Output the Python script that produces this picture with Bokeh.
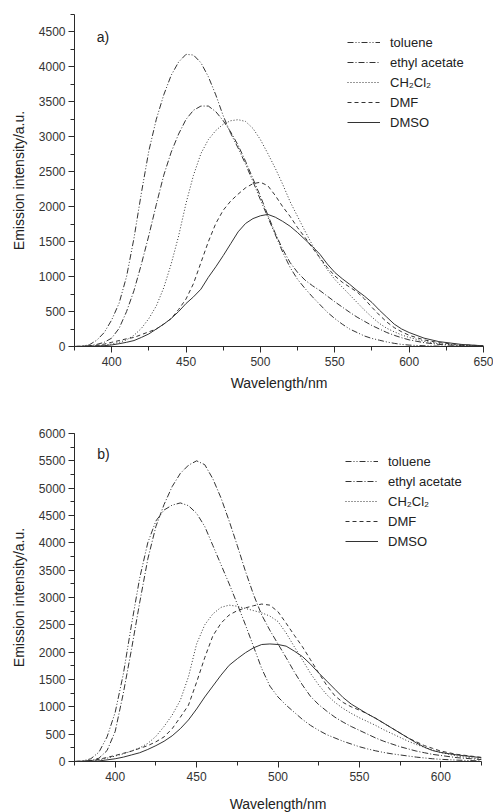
from bokeh.plotting import figure
from bokeh.models import Legend, LegendItem, Label, SingleIntervalTicker, Range1d
from bokeh.layouts import column
from bokeh.embed import file_html
from bokeh.resources import INLINE

# ---------------- data: panel a ----------------
wl_a = [375, 380, 385, 390, 395, 400, 405, 410, 415, 420, 425, 430, 435, 440, 445,
        450, 455, 460, 465, 470, 475, 480, 485, 490, 495, 500, 505, 510, 515, 520,
        525, 530, 535, 540, 545, 550, 555, 560, 565, 570, 575, 580, 585, 590, 595,
        600, 610, 620, 635, 650]
toluene_a = [0, 5, 25, 90, 200, 380, 620, 1000, 1550, 2200, 2800, 3250, 3600, 3880, 4070,
             4180, 4170, 4060, 3860, 3600, 3300, 3050, 2840, 2610, 2360, 2100, 1850, 1600, 1350, 1130,
             960, 830, 710, 600, 490, 400, 320, 250, 200, 150, 115, 90, 65, 45, 30,
             20, 10, 5, 3, 0]
ethyl_a = [0, 3, 10, 30, 60, 120, 260, 500, 800, 1180, 1590, 2030, 2450, 2780, 3040,
           3250, 3380, 3440, 3440, 3360, 3230, 3070, 2880, 2650, 2400, 2150, 1880, 1620, 1390, 1200,
           1060, 950, 870, 800, 720, 640, 565, 490, 420, 360, 300, 250, 200, 160, 125,
           95, 55, 30, 12, 5]
ch2cl2_a = [0, 2, 5, 10, 20, 35, 60, 95, 160, 260, 400, 580, 840, 1180, 1580,
            2050, 2450, 2760, 2960, 3090, 3180, 3230, 3245, 3220, 3120, 2960, 2760, 2550, 2320, 2070,
            1860, 1650, 1450, 1260, 1100, 960, 850, 740, 630, 520, 420, 330, 260, 210, 165,
            130, 75, 40, 15, 5]
dmf_a = [0, 3, 8, 15, 35, 60, 85, 110, 130, 170, 210, 250, 320, 400, 530,
         680, 900, 1200, 1500, 1760, 1950, 2080, 2180, 2270, 2330, 2350, 2300, 2160, 2000, 1860,
         1700, 1560, 1410, 1270, 1130, 1010, 920, 850, 780, 680, 560, 450, 350, 270, 210,
         160, 95, 55, 25, 10]
dmso_a = [0, 1, 3, 5, 12, 22, 40, 60, 85, 130, 180, 250, 320, 400, 500,
          615, 710, 820, 990, 1140, 1300, 1470, 1640, 1760, 1830, 1870, 1890, 1850, 1790, 1720,
          1630, 1530, 1430, 1320, 1180, 1060, 970, 890, 800, 720, 630, 520, 420, 320, 250,
          200, 120, 70, 30, 10]

# ---------------- data: panel b ----------------
wl_b = [375, 380, 385, 390, 395, 400, 405, 410, 415, 420, 425, 430, 435, 440, 445,
        450, 455, 460, 465, 470, 475, 480, 485, 490, 495, 500, 505, 510, 515, 520,
        525, 530, 535, 540, 545, 550, 555, 560, 565, 570, 575, 580, 585, 590, 595,
        600, 610, 625]
toluene_b = [0, 10, 50, 170, 450, 900, 1600, 2500, 3350, 4000, 4400, 4600, 4690, 4730, 4680,
             4540, 4300, 3950, 3600, 3250, 2880, 2500, 2100, 1700, 1380, 1180, 1030, 900, 770, 660,
             570, 490, 430, 370, 320, 270, 230, 195, 165, 140, 120, 100, 80, 65, 50,
             40, 25, 10]
ethyl_b = [0, 5, 20, 60, 200, 550, 1250, 2050, 2900, 3700, 4300, 4700, 5030, 5270, 5420,
           5500, 5430, 5170, 4820, 4400, 3950, 3480, 3050, 2680, 2400, 2150, 1900, 1640, 1400, 1190,
           1040, 920, 810, 720, 640, 570, 500, 430, 370, 320, 270, 230, 190, 160, 130,
           110, 70, 35]
ch2cl2_b = [0, 3, 10, 30, 60, 100, 140, 190, 250, 330, 460, 640, 850, 1120, 1550,
            2150, 2500, 2700, 2820, 2860, 2840, 2800, 2760, 2720, 2660, 2560, 2350, 2100, 1860, 1610,
            1400, 1220, 1080, 970, 880, 800, 730, 660, 580, 510, 440, 370, 310, 260, 210,
            165, 100, 45]
dmf_b = [0, 5, 15, 40, 75, 110, 150, 190, 240, 290, 360, 450, 600, 810, 1030,
         1450, 1900, 2300, 2530, 2680, 2760, 2810, 2850, 2880, 2860, 2740, 2530, 2310, 2100, 1860,
         1620, 1390, 1200, 1080, 1000, 940, 870, 790, 700, 610, 520, 430, 360, 290, 240,
         190, 130, 75]
dmso_b = [0, 2, 5, 10, 30, 50, 80, 120, 160, 220, 290, 370, 470, 600, 760,
          960, 1180, 1380, 1580, 1760, 1880, 1990, 2080, 2140, 2150, 2140, 2110, 2020, 1920, 1780,
          1620, 1470, 1320, 1170, 1050, 960, 870, 790, 700, 610, 520, 430, 340, 260, 200,
          165, 120, 70]

labels = ["toluene", "ethyl acetate", "CH\u2082Cl\u2082", "DMF", "DMSO"]
dashes = ["6 2 1 2 1 2", "6 2 1 2", "1 2", "4 3", "solid"]

FONT = "Liberation Sans"
INK = "#333333"


def panel(wl, series, xmax, ymax, frame_w, frame_h, border_left, border_top,
          border_bottom, xlabel_standoff, legend_loc, tag, tag_xy):
    p = figure(frame_width=frame_w, frame_height=frame_h,
               x_range=Range1d(375, xmax), y_range=Range1d(0, ymax),
               output_backend="svg", toolbar_location=None,
               min_border_left=border_left, min_border_right=12,
               min_border_top=border_top, min_border_bottom=border_bottom)
    p.outline_line_color = None
    p.grid.visible = False
    p.background_fill_color = "white"
    p.border_fill_color = "white"

    p.xaxis.ticker = SingleIntervalTicker(interval=50, num_minor_ticks=2)
    p.yaxis.ticker = SingleIntervalTicker(interval=500, num_minor_ticks=2)
    for ax in (p.xaxis, p.yaxis):
        ax.axis_line_color = "#2a2a2a"
        ax.major_tick_line_color = "#2a2a2a"
        ax.minor_tick_line_color = "#2a2a2a"
        ax.major_tick_out = 6
        ax.major_tick_in = 0
        ax.minor_tick_out = 4
        ax.minor_tick_in = 0
        ax.major_label_text_font = FONT
        ax.major_label_text_font_size = "12px"
        ax.major_label_text_color = "#333333"
        ax.axis_label_text_font = FONT
        ax.axis_label_text_font_size = "14px"
        ax.axis_label_text_font_style = "normal"
        ax.axis_label_text_color = "#222222"
    p.xaxis.axis_label = "Wavelength/nm"
    p.yaxis.axis_label = "Emission intensity/a.u."
    p.xaxis.major_label_standoff = 4
    p.yaxis.major_label_standoff = 3
    p.xaxis.axis_label_standoff = xlabel_standoff
    p.yaxis.axis_label_standoff = 9

    items = []
    for lab, ys, dash in zip(labels, series, dashes):
        r = p.line(wl, ys, line_color=INK, line_width=1, line_dash=dash)
        items.append(LegendItem(label=lab, renderers=[r]))

    leg = Legend(items=items, location=legend_loc)
    leg.border_line_color = None
    leg.background_fill_alpha = 0
    leg.label_text_font = FONT
    leg.label_text_font_size = "13px"
    leg.label_text_color = "#222222"
    leg.glyph_width = 33
    leg.glyph_height = 20
    leg.label_height = 20
    leg.label_standoff = 10
    leg.spacing = 0
    leg.padding = 4
    leg.margin = 0
    p.add_layout(leg)

    p.add_layout(Label(x=tag_xy[0], y=tag_xy[1], text=tag, text_font=FONT,
                       text_font_size="14px", text_color="#222222",
                       text_baseline="middle", text_align="left"))
    return p


p1 = panel(wl_a, [toluene_a, ethyl_a, ch2cl2_a, dmf_a, dmso_a], 650, 4750,
           409, 332, 72, 14, 52, 6, (273, 214), "a)", (390, 4430))
p2 = panel(wl_b, [toluene_b, ethyl_b, ch2cl2_b, dmf_b, dmso_b], 625, 6000,
           407, 328, 74, 35, 48, 12, (271, 210), "b)", (389, 5630))

layout = column(p1, p2, spacing=0)
open("out.html", "w").write(file_html(layout, INLINE))
